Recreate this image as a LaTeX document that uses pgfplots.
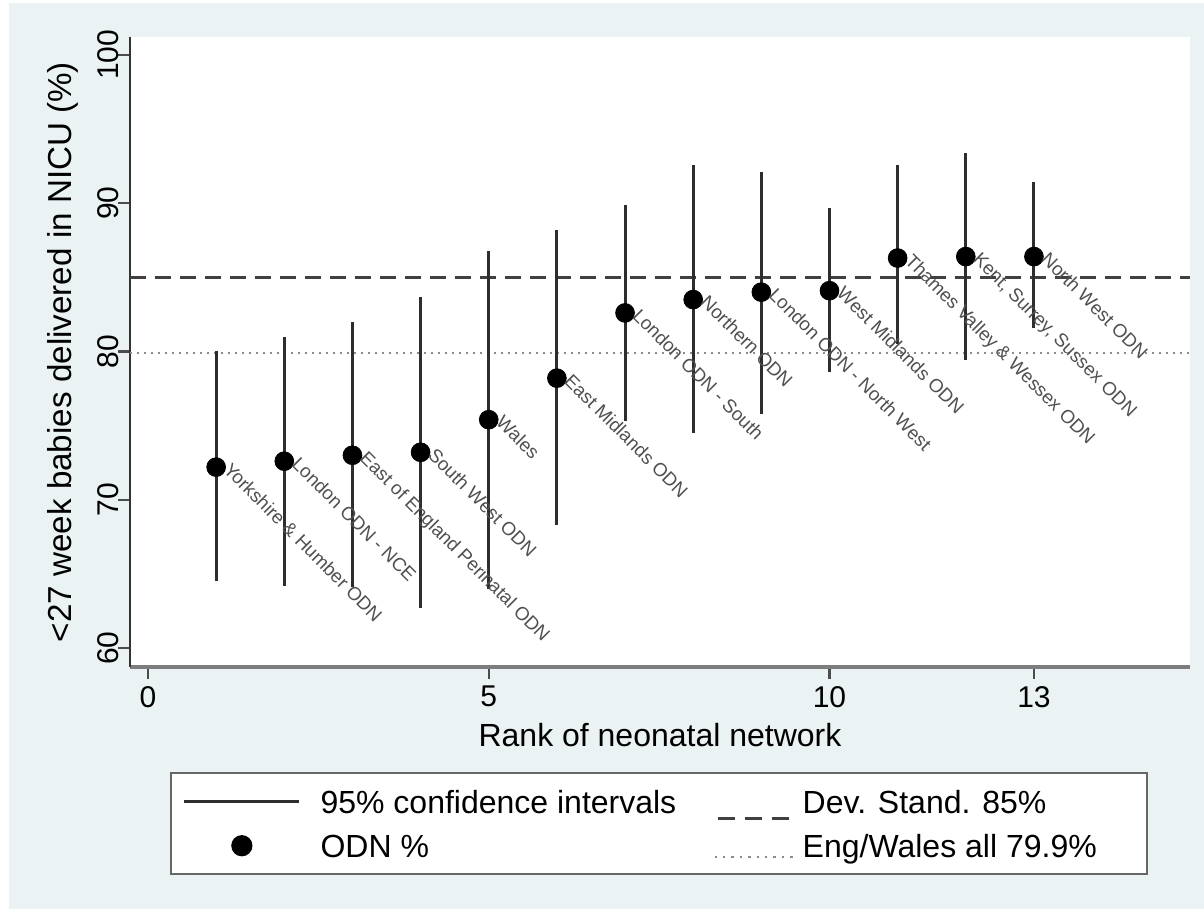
\documentclass[border=0pt]{standalone}
\usepackage{pgfplots}
\usepackage{pgfplotstable}
\pgfplotsset{compat=1.18}
\usepackage{fontspec}
\setmainfont{Liberation Sans}
\definecolor{bgc}{RGB}{234,242,243}
\definecolor{axc}{RGB}{125,125,125}
\definecolor{cic}{RGB}{45,45,45}
\definecolor{lblc}{RGB}{80,80,80}
\pgfplotstableread{
r  y     lo    hi    lab
1  72.2  64.5  80.0  {Yorkshire \& Humber ODN}
2  72.6  64.2  81.0  {London ODN - NCE}
3  73.0  64.1  82.0  {East of England Perinatal ODN}
4  73.2  62.7  83.7  {South West ODN}
5  75.4  64.0  86.8  {Wales}
6  78.2  68.3  88.2  {East Midlands ODN}
7  82.6  75.3  89.9  {London ODN - South}
8  83.5  74.5  92.6  {Northern ODN}
9  84.0  75.8  92.1  {London ODN - North West}
10 84.1  78.6  89.7  {West Midlands ODN}
11 86.3  80.5  92.6  {Thames Valley \& Wessex ODN}
12 86.4  79.4  93.4  {Kent, Surrey, Sussex ODN}
13 86.4  81.6  91.4  {North West ODN}
}\odn
\begin{document}
\begin{tikzpicture}
\useasboundingbox (0,0) rectangle (602pt,454.5pt);
\fill[white] (0,0) rectangle (602pt,454.5pt);
\fill[bgc] (4.5pt,0) rectangle (602pt,453pt);
\begin{axis}[
  at={(65pt,121pt)}, anchor=south west,
  scale only axis, width=530pt, height=315pt,
  xmin=-0.264, xmax=15.29, ymin=58.72, ymax=101.21,
  axis background/.style={fill=white},
  axis lines*=left,
  clip=false,
  x axis line style={line width=1.6pt, draw=axc},
  y axis line style={line width=1.2pt, draw=black!80},
  xtick={0,5,10,13}, ytick={60,70,80,90,100},
  tick align=outside, major tick length=6pt,
  tick style={line width=1.2pt, draw=black!70},
  /pgf/number format/assume math mode=true,
  ticklabel style={font=\fontsize{15}{18}\selectfont},
  yticklabel style={rotate=90, anchor=base},
  xlabel={Rank of neonatal network},
  ylabel={<27 week babies delivered in NICU (\%)},
  xlabel style={font=\fontsize{16}{19}\selectfont, at={(axis description cs:0.5,0)}, anchor=base, yshift=-39.8pt},
  ylabel style={font=\fontsize{16.6}{19}\selectfont, at={([xshift=-29pt]axis description cs:0,0.5)}, anchor=base},
  legend columns=2,
  legend cell align=left,
  legend style={at={(0.0377,-0.1667)}, anchor=north west, draw=black!60,
    line width=1.2pt, fill=white, inner xsep=6pt, inner ysep=7.5pt,
    font=\fontsize{16}{19}\selectfont, row sep=8.5pt, column sep=0pt,
    nodes={inner sep=0pt, text height=12.5pt, text depth=1pt}},
]
\addplot[forget plot, line width=1.5pt, black!75, dash pattern=on 8pt off 4.5pt]
  coordinates {(-0.264,85) (15.29,85)};
\addplot[forget plot, line width=1pt, black!45, dash pattern=on 1.2pt off 2.3pt]
  coordinates {(-0.264,79.9) (15.29,79.9)};
\addplot[forget plot, only marks, mark=none,
  error bars/.cd, y dir=both, y explicit, error mark=none,
  error bar style={line width=1.5pt, draw=cic}]
  table[x=r, y=y, y error plus expr=\thisrow{hi}-\thisrow{y},
        y error minus expr=\thisrow{y}-\thisrow{lo}] {\odn};
\addplot[forget plot, only marks, mark=*, mark size=4.7pt, black,
  point meta=explicit symbolic, nodes near coords,
  every node near coord/.append style={anchor=base west, inner sep=0pt,
    xshift=3.1pt, yshift=-1.9pt, rotate=-45,
    text=lblc, font=\fontsize{9.4}{11}\selectfont}]
  table[x=r, y=y, meta=lab] {\odn};
\addlegendimage{legend image code/.code={
  \path (0pt,0pt) (67.5pt,0pt);
  \draw[overlay, line width=1.5pt, draw=cic] (0pt,0pt) -- (57.5pt,0pt);}}
\addlegendentry{95\% confidence intervals}
\addlegendimage{legend image code/.code={
  \path (-20pt,0pt) (42pt,0pt);
  \draw[overlay, line width=1.5pt, draw=black!75, dash pattern=on 8.5pt off 5pt] (0pt,-8.25pt) -- (37pt,-8.25pt);}}
\addlegendentry{Dev. Stand. 85\%}
\addlegendimage{legend image code/.code={
  \path (0pt,0pt) (67.5pt,0pt);
  \fill[overlay, black] (28.75pt,0pt) circle (4.7pt);}}
\addlegendentry{ODN \%}
\addlegendimage{legend image code/.code={
  \path (-20pt,0pt) (42pt,0pt);
  \draw[overlay, line width=1pt, draw=black!45, dash pattern=on 1.2pt off 3pt] (-1.5pt,-5.75pt) -- (38pt,-5.75pt);}}
\addlegendentry{Eng/Wales all 79.9\%\hspace*{19pt}}
\end{axis}
\end{tikzpicture}
\end{document}
